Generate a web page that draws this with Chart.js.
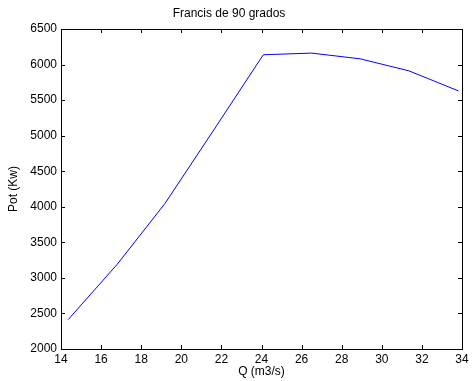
<!DOCTYPE html>
<html>
<head>
<meta charset="utf-8">
<script src="https://cdn.jsdelivr.net/npm/chart.js@4.4.1/dist/chart.umd.min.js"></script>
<style>
  html, body { margin: 0; padding: 0; background: #fff; }
  #wrap { width: 475px; height: 381px; }
</style>
</head>
<body>
<div id="wrap"><canvas id="myChart"></canvas></div>
<script>
// caudal (m3/s) y potencia (kW)
const caudal = [14.36, 16.81, 19.19, 21.62, 24.09, 26.5, 28.91, 31.35, 33.82];
const potencia = [2414, 3193, 4048, 5080, 6138, 6161, 6081, 5912, 5630];

const xTicks = [14, 16, 18, 20, 22, 24, 26, 28, 30, 32, 34];
const yTicks = [2000, 2500, 3000, 3500, 4000, 4500, 5000, 5500, 6000, 6500];
const titulo = 'Francis de 90 grados';

const ctx = document.querySelector('#myChart').getContext('2d');
const font = {family: 'Arial, "Liberation Sans", sans-serif', size: 12};

// caja, marcas hacia dentro y titulo, estilo matlab
const boxTicks = {
  id: 'boxTicks',
  afterDraw(chart) {
    const {ctx, chartArea: a, scales} = chart;
    const len = 4;
    ctx.save();
    ctx.strokeStyle = '#000';
    ctx.lineWidth = 1;
    ctx.beginPath();
    xTicks.forEach(v => {
      const x = Math.round(scales.x.getPixelForValue(v)) + 0.5;
      ctx.moveTo(x, a.bottom); ctx.lineTo(x, a.bottom - len);
      ctx.moveTo(x, a.top); ctx.lineTo(x, a.top + len);
    });
    yTicks.forEach(v => {
      const y = Math.round(scales.y.getPixelForValue(v)) + 0.5;
      ctx.moveTo(a.left, y); ctx.lineTo(a.left + len, y);
      ctx.moveTo(a.right, y); ctx.lineTo(a.right - len, y);
    });
    ctx.stroke();
    ctx.strokeRect(Math.round(a.left) + 0.5, Math.round(a.top) + 0.5,
      Math.round(a.right - a.left), Math.round(a.bottom - a.top));
    // titulo (en la figura original esta algo desplazado a la izquierda)
    ctx.fillStyle = '#000';
    ctx.font = font.size + 'px ' + font.family;
    ctx.textAlign = 'center';
    ctx.textBaseline = 'middle';
    ctx.fillText(titulo, 229, 14);
    ctx.restore();
  }
};

new Chart(ctx, {
  type: 'scatter',
  data: {
    datasets: [{
      data: caudal.map((q, i) => ({x: q, y: potencia[i]})),
      showLine: true,
      borderColor: '#0000ff',
      borderWidth: 1,
      pointRadius: 0,
      tension: 0
    }]
  },
  options: {
    responsive: true,
    maintainAspectRatio: false,
    animation: false,
    layout: {padding: {top: 29, left: 0, right: 13, bottom: 0}},
    plugins: {
      legend: {display: false},
      tooltip: {enabled: false},
      title: {display: false}
    },
    scales: {
      x: {
        type: 'linear',
        min: 14, max: 34,
        afterBuildTicks: s => { s.ticks = xTicks.map(v => ({value: v})); },
        afterFit: s => { s.height = 32; },
        grid: {display: false, drawTicks: false},
        border: {display: false},
        ticks: {color: '#000', font, padding: 3, maxRotation: 0, callback: v => String(v)},
        title: {display: true, text: 'Q (m3/s)', color: '#000', font, padding: {top: 0, bottom: 2}}
      },
      y: {
        min: 2000, max: 6500,
        afterBuildTicks: s => { s.ticks = yTicks.map(v => ({value: v})); },
        afterFit: s => { s.width = 61; },
        grid: {display: false, drawTicks: false},
        border: {display: false},
        ticks: {color: '#000', font, padding: 4, callback: v => String(v)},
        title: {display: true, text: 'Pot (Kw)', color: '#000', font, padding: {top: 6, bottom: 0}}
      }
    }
  },
  plugins: [boxTicks]
});
</script>
</body>
</html>
